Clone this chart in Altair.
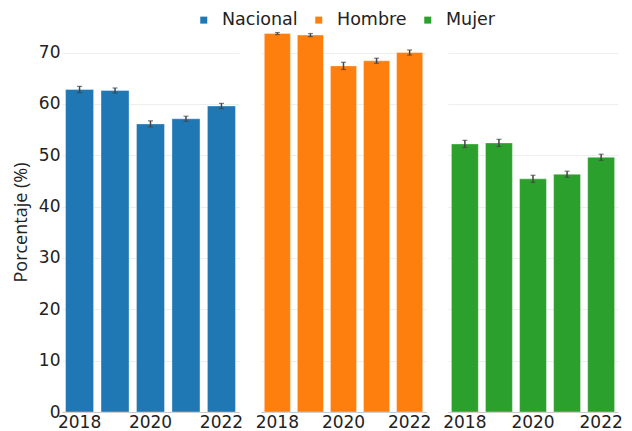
import altair as alt
import pandas as pd

# ---- data ----
grupos = ["Nacional", "Hombre", "Mujer"]
anios = [2018, 2019, 2020, 2021, 2022]
nacional = [62.8, 62.6, 56.1, 57.1, 59.6]
hombre = [73.7, 73.4, 67.4, 68.4, 70.0]
mujer = [52.2, 52.4, 45.4, 46.3, 49.6]
err_nacional = [0.6, 0.5, 0.6, 0.5, 0.5]
err_hombre = [0.2, 0.3, 0.7, 0.5, 0.5]
err_mujer = [0.7, 0.7, 0.7, 0.6, 0.6]
colores = ["#1f77b4", "#ff7f0e", "#2ca02c"]
y_ticks = [0, 10, 20, 30, 40, 50, 60, 70]
x_labels = [2018, 2020, 2022]

rows = []
for g, vals, errs in zip(grupos, [nacional, hombre, mujer], [err_nacional, err_hombre, err_mujer]):
    for a, v, e in zip(anios, vals, errs):
        rows.append({"grupo": g, "anio": a, "valor": v, "lo": v - e, "hi": v + e})
df = pd.DataFrame(rows)

FONT = "DejaVu Sans"
TXT = "#222222"
y_scale = alt.Scale(domain=[0, 74], nice=False, zero=True)
x_scale = alt.Scale(paddingInner=0.21, paddingOuter=0.1)
color_enc = alt.Color(
    "grupo:N",
    scale=alt.Scale(domain=grupos, range=colores),
    legend=alt.Legend(
        title=None, orient="none", direction="horizontal",
        legendX=133, legendY=-21,
        symbolType="square", symbolSize=49, symbolStrokeWidth=0,
        labelFontSize=17.5, labelFont=FONT, labelColor=TXT,
        labelOffset=9.5, columnPadding=12,
    ),
)

xax = alt.Axis(title=None, labelAngle=0, values=x_labels, labelFont=FONT,
               labelFontSize=17, labelColor=TXT, labelPadding=2,
               ticks=False, domainColor="#c8c8c8", domainWidth=1.2,
               labelOverlap=False, grid=False)


def panel(g, w, first):
    if first:
        yax = alt.Axis(values=y_ticks, title="Porcentaje (%)", titleFont="Open Sans",
                       titleFontSize=18, titleFontWeight="normal", titleColor=TXT,
                       titlePadding=8, labelFont=FONT, labelFontSize=17, labelColor=TXT,
                       labelPadding=2, ticks=False, domain=False, grid=True,
                       gridColor="#eeeeee", labelFlush=False)
    else:
        yax = alt.Axis(values=y_ticks, title=None, labels=False, ticks=False,
                       domain=False, grid=True, gridColor="#eeeeee")
    base = alt.Chart(df).transform_filter(alt.datum.grupo == g)
    bars = base.mark_bar(stroke="white", strokeWidth=0.6, strokeOpacity=0.6).encode(
        x=alt.X("anio:O", scale=x_scale, axis=xax),
        y=alt.Y("valor:Q", scale=y_scale, axis=yax),
        color=color_enc,
    )
    rule = base.mark_rule(color="#444", strokeWidth=1.5).encode(
        x=alt.X("anio:O", scale=x_scale, axis=xax),
        y=alt.Y("lo:Q", scale=y_scale, axis=yax),
        y2="hi:Q",
    )
    cap_lo = base.mark_tick(color="#444", thickness=1.2, size=5).encode(
        x=alt.X("anio:O", scale=x_scale, axis=xax),
        y=alt.Y("lo:Q", scale=y_scale, axis=yax),
    )
    cap_hi = base.mark_tick(color="#444", thickness=1.2, size=5).encode(
        x=alt.X("anio:O", scale=x_scale, axis=xax),
        y=alt.Y("hi:Q", scale=y_scale, axis=yax),
    )
    return alt.layer(bars, rule, cap_lo, cap_hi).properties(width=w, height=380)


chart = alt.hconcat(
    panel("Nacional", 177, True),
    panel("Hombre", 165, False),
    panel("Mujer", 170, False),
    spacing=22,
    bounds="flush",
).resolve_scale(y="shared", color="shared").properties(
    padding={"left": 4, "top": 3, "right": 0, "bottom": 0},
    background="white",
).configure_view(strokeWidth=0)

chart.save("out.html", embed_options={"renderer": "svg", "actions": False})
